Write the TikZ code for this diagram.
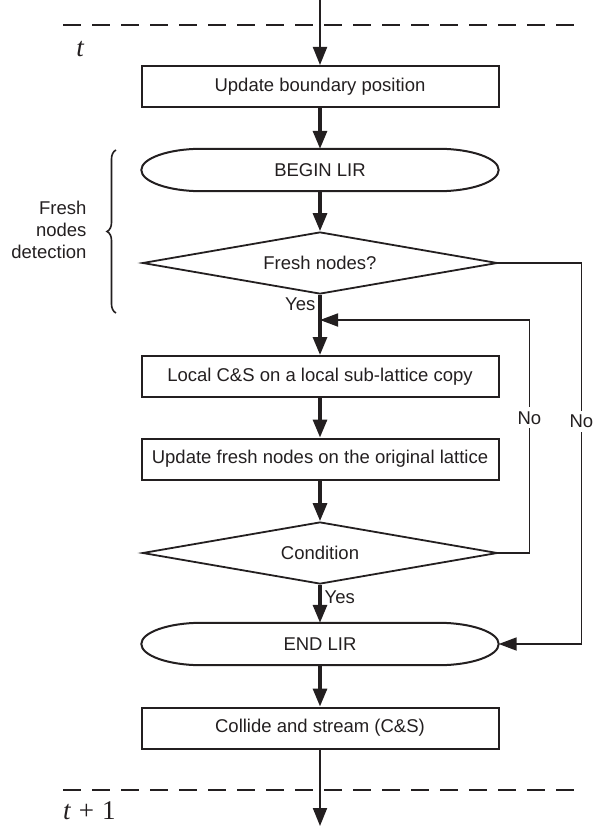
\documentclass[tikz,border=0pt]{standalone}
\usepackage{fontspec}
\setmainfont{Liberation Sans}
\newfontfamily\timesfont{Liberation Serif}
\usetikzlibrary{arrows.meta,shapes.geometric,decorations.pathreplacing,calc}

\definecolor{ink}{HTML}{231F20}

% outline of a terminal (start/end) node: flat top and bottom, elliptic ends
\newcommand\terminaloutline[1]{%
  \draw[draw=ink, line width=2pt]
    (#1.west) .. controls ($(#1.west)+(0,-11.6)$) and ($(#1.north west)+(27,0)$) .. ($(#1.north west)+(60,0)$)
    -- ($(#1.north east)+(-60,0)$)
    .. controls ($(#1.north east)+(-27,0)$) and ($(#1.east)+(0,-11.6)$) .. (#1.east)
    .. controls ($(#1.east)+(0,11.6)$) and ($(#1.south east)+(-27,0)$) .. ($(#1.south east)+(-60,0)$)
    -- ($(#1.south west)+(60,0)$)
    .. controls ($(#1.south west)+(27,0)$) and ($(#1.west)+(0,11.6)$) .. (#1.west) -- cycle;}

\begin{document}
\begin{tikzpicture}[x=1pt,y=-1pt,
  every node/.style={font=\fontsize{18.5}{22}\selectfont, text=ink},
  procbox/.style={draw=ink, line width=2pt, minimum width=357pt, minimum height=41pt, inner sep=0pt},
  term/.style={minimum width=357pt, minimum height=42pt, inner sep=0pt},
  decide/.style={draw=ink, line width=1.8pt, shape=diamond, shape aspect=5.7,
    minimum width=355pt, minimum height=62pt, inner sep=0pt},
  flow/.style={draw=ink, line width=3.2pt, -{Triangle[length=18pt,width=14pt]}},
  thinflow/.style={draw=ink, line width=2pt, -{Triangle[length=18pt,width=14pt]}},
  sidearrow/.style={draw=ink, line width=1.8pt, -{Triangle[length=18pt,width=13pt]}},
  timeline/.style={draw=ink, line width=2pt, dash pattern=on 18pt off 11pt},
  lbl/.style={inner sep=4pt, fill=white},
  timelbl/.style={font=\fontsize{27}{28}\timesfont, inner sep=1pt}
]
\useasboundingbox (0,0) rectangle (601,826);

% time step boundaries
\draw[timeline] (63,25) -- (583,25);
\draw[timeline] (63,790) -- (583,790);
\node[timelbl, anchor=base] (tnow) at (80,57) {\itshape t};
\node[timelbl, anchor=base west] (tnext) at (62,819) {{\itshape t}\hspace{0.3em}+\hspace{0.3em}1};

% flow chart nodes
\node[procbox] (upd) at (320,86.5) {Update boundary position};
\node[term] (lirbegin) at (320,170) {BEGIN LIR};
\terminaloutline{lirbegin}
\node[decide] (fresh) at (320,263) {Fresh nodes?};
\node[procbox] (localcs) at (320,376.5) {Local C\&S on a local sub-lattice copy};
\node[procbox] (updfresh) at (320,459) {Update fresh nodes on the original lattice};
\node[decide] (cond) at (320,553) {Condition};
\node[term] (lirend) at (320,644) {END LIR};
\terminaloutline{lirend}
\node[procbox] (cs) at (320,728) {Collide and stream (C\&S)};

\coordinate (entry) at (320,0);
\coordinate (exit) at (320,826);
\coordinate (loopin) at (320,320);

% main flow
\draw[thinflow] (entry) -- (upd.north);
\draw[flow] (upd.south) -- (lirbegin.north);
\draw[flow] (lirbegin.south) -- (fresh.north);
\draw[flow] (fresh.south) -- node[left, pos=0.15, inner sep=3pt] {Yes} (localcs.north);
\draw[flow] (localcs.south) -- (updfresh.north);
\draw[flow] (updfresh.south) -- (cond.north);
\draw[flow] (cond.south) -- node[right, pos=0.33, inner sep=3pt] {Yes} (lirend.north);
\draw[flow] (lirend.south) -- (cs.north);
\draw[thinflow] (cs.south) -- (exit);

% side branches
\draw[sidearrow] (cond.east) -- ++(31,0) coordinate (loopcorner)
  -- node[lbl, pos=0.58] {No} (loopcorner |- loopin) -- (loopin);
\draw[sidearrow] (fresh.east) -- ++(83,0) coordinate (skipcorner)
  -- node[lbl, pos=0.415] {No} (skipcorner |- lirend.east) -- (lirend.east);

% detection phase bracket
\draw[draw=ink, line width=1.6pt, decorate, decoration={brace, amplitude=9pt}]
  (116,313) -- (116,150);
\node[anchor=east, align=right] (detect) at (90,230) {Fresh\\nodes\\detection};
\end{tikzpicture}
\end{document}
